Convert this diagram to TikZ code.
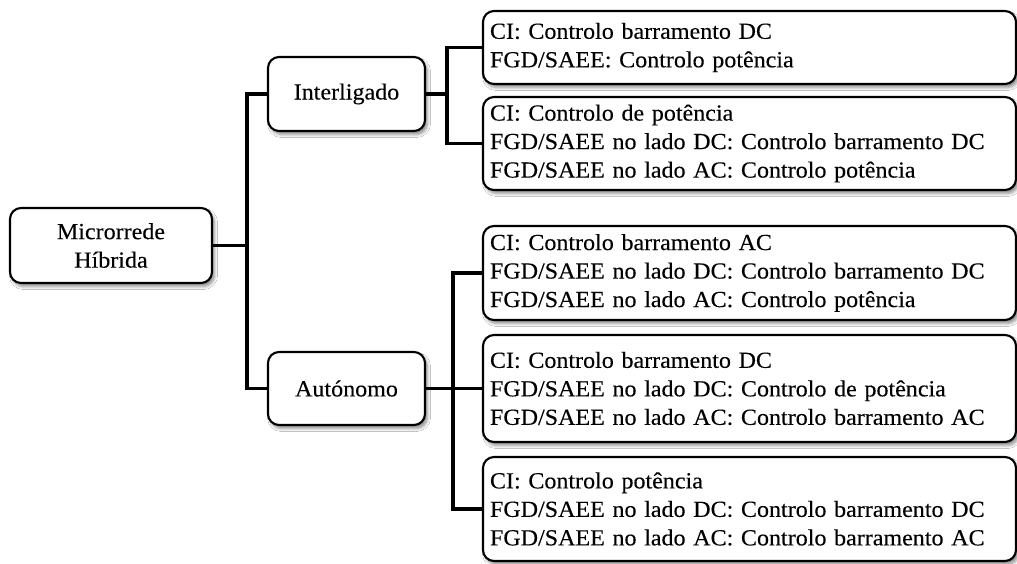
\documentclass[tikz,border=0pt]{standalone}
\usepackage{fontspec}
\setmainfont{Liberation Serif}[FakeStretch=1.045, FakeBold=0.2]
\usetikzlibrary{shadows.blur}
\tikzset{
  box/.style={draw=black, line width=2.1pt, rounded corners=11pt, fill=white,
    blur shadow={shadow xshift=2.5pt, shadow yshift=-3.5pt, shadow blur steps=6, shadow opacity=45, shadow blur radius=3pt},
    font=\fontsize{23}{28.5}\selectfont, inner sep=0pt},
  cbox/.style={box, align=center, text width=200pt},
  rbox/.style={box, align=left, inner xsep=7pt, text width=519pt, minimum width=533pt},
  conn/.style={draw=black, line width=3.3pt},
}
\begin{document}
\begin{tikzpicture}[x=1pt,y=-1pt]
\useasboundingbox[fill=white] (0,0) rectangle (1017,563);
% level 0
\node[cbox, text width=202pt, minimum height=75pt] (M) at (111,245.5) {Microrrede\\Híbrida};
% level 1
\node[cbox, text width=157pt, minimum height=74pt] (I) at (346.5,94) {Interligado};
\node[cbox, text width=157pt, minimum height=73pt] (A) at (346.5,388.5) {Autónomo};
% level 2
\node[rbox, minimum height=73pt] (R1) at (749.5,47.5) {CI: Controlo barramento DC\\FGD/SAEE: Controlo potência};
\node[rbox, minimum height=93pt] (R2) at (749.5,143.5) {CI: Controlo de potência\\FGD/SAEE no lado DC: Controlo barramento DC\\FGD/SAEE no lado AC: Controlo potência};
\node[rbox, minimum height=94pt] (R3) at (749.5,273) {CI: Controlo barramento AC\\FGD/SAEE no lado DC: Controlo barramento DC\\FGD/SAEE no lado AC: Controlo potência};
\node[rbox, minimum height=107pt] (R4) at (749.5,388.5) {CI: Controlo barramento DC\\FGD/SAEE no lado DC: Controlo de potência\\FGD/SAEE no lado AC: Controlo barramento AC};
\node[rbox, minimum height=104pt] (R5) at (749.5,509) {CI: Controlo potência\\FGD/SAEE no lado DC: Controlo barramento DC\\FGD/SAEE no lado AC: Controlo barramento AC};
% junctions
\coordinate (j1) at (247,245.5);
\coordinate (j2) at (447,94);
\coordinate (j3) at (453,388.5);
% connectors
\draw[conn] (M.east) -- (j1);
\draw[conn] (I.west) -| (j1) |- (A.west);
\draw[conn] (I.east) -- (j2);
\draw[conn] (R1.west) -| (j2) |- (R2.west);
\draw[conn] (A.east) -- (R4.west);
\draw[conn] (R3.west) -| (j3) |- (R5.west);
\end{tikzpicture}
\end{document}
